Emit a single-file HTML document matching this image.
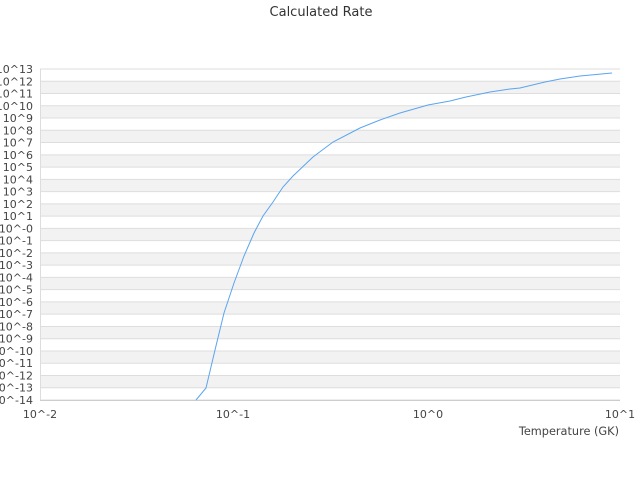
<!DOCTYPE html><html><head><style>body{margin:0;background:#fff}svg{font-family:"DejaVu Sans","Liberation Sans",sans-serif}</style></head><body>
<svg width="640" height="480" xmlns="http://www.w3.org/2000/svg">
<text x="321" y="16" font-size="13" text-anchor="middle" fill="#333">Calculated Rate</text>
<g id="bands"></g>
<g id="labels" font-size="11" fill="#444" text-anchor="end"></g>
<line x1="40" y1="400.5" x2="620" y2="400.5" stroke="#ccc"/>
<line x1="40.5" y1="69" x2="40.5" y2="400" stroke="#ddd"/>
<g font-size="11" fill="#444" text-anchor="middle">
<text x="40" y="418">10^-2</text><text x="233" y="418">10^-1</text><text x="428" y="418">10^0</text><text x="620" y="418">10^1</text>
</g>
<text x="619" y="435" font-size="11.3" fill="#444" text-anchor="end">Temperature (GK)</text>
<polyline fill="none" stroke="#5aa5f0" stroke-width="1" points="196,400 206,388 215,350 224,313 234,283 244,256 254,233 263,216 273,202 283,187 293,176 313,157 333,142 360,128 380,120 400,113 428,105 450,101 466,97 490,92 510,89 520,88 545,82 560,79 580,76 612,73"/>
<script>
var b=document.getElementById('bands'),l=document.getElementById('labels'),ns='http://www.w3.org/2000/svg',s=331/27;
for(var i=0;i<27;i++){var y0=400-(i+1)*s;var r=document.createElementNS(ns,'rect');r.setAttribute('x',40);r.setAttribute('y',y0);r.setAttribute('width',580);r.setAttribute('height',s);r.setAttribute('fill',i%2?'#f2f2f2':'#fff');b.appendChild(r);}
for(var e=-14;e<=13;e++){var y=400-(e+14)*s;var ln=document.createElementNS(ns,'line');ln.setAttribute('x1',40);ln.setAttribute('x2',620);ln.setAttribute('y1',y);ln.setAttribute('y2',y);ln.setAttribute('stroke','#ddd');b.appendChild(ln);
var t=document.createElementNS(ns,'text');t.setAttribute('x',33);t.setAttribute('y',y+4);t.textContent='10^'+(e==0?'-0':e);l.appendChild(t);}
</script>
</svg></body></html>
